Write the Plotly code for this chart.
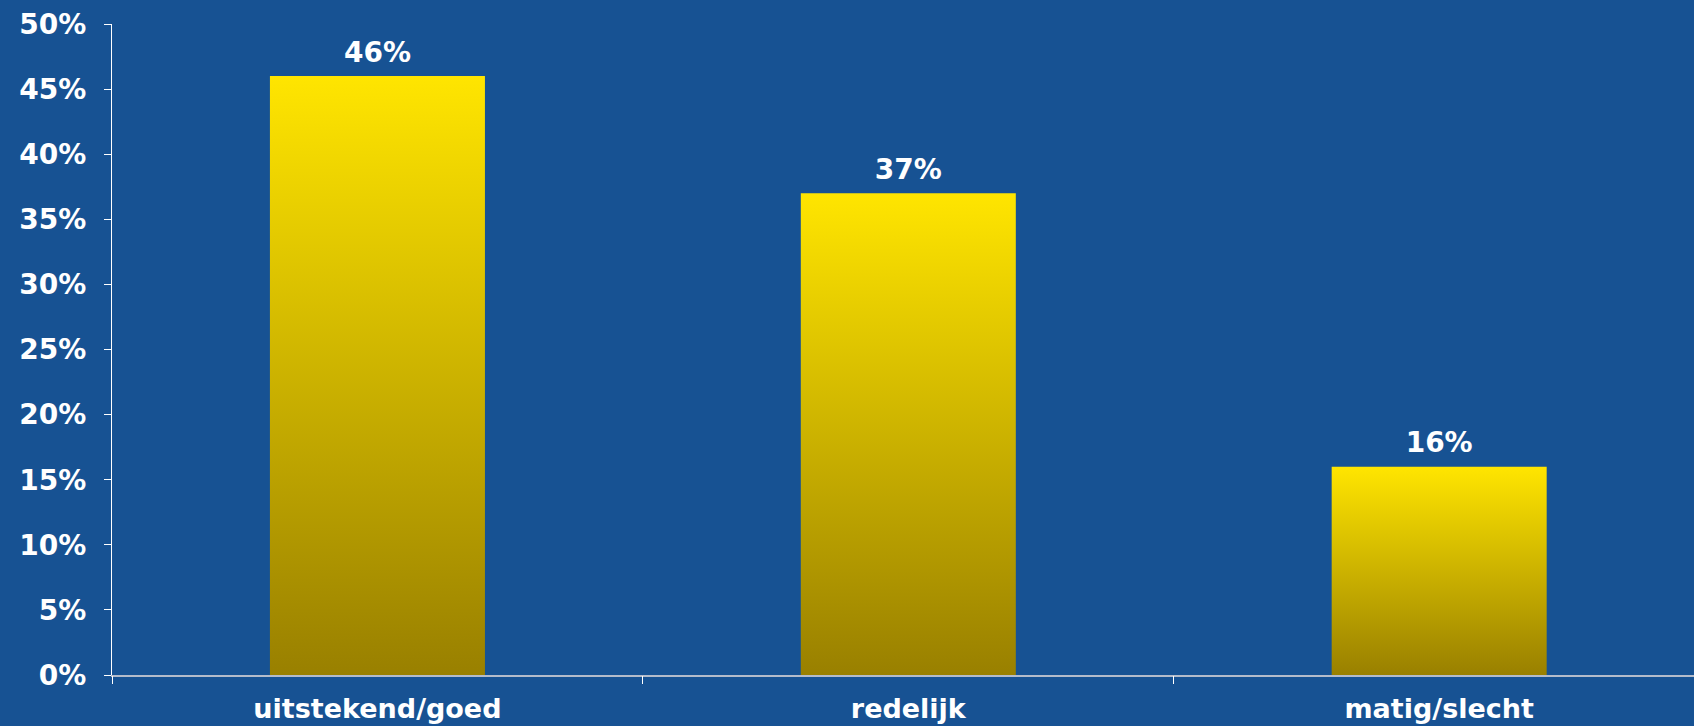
import plotly.graph_objects as go

categories = ["uitstekend/goed", "redelijk", "matig/slecht"]
values = [46, 37, 16]
labels = ["46%", "37%", "16%"]
y_ticks = [0, 5, 10, 15, 20, 25, 30, 35, 40, 45, 50]
y_ticktext = [f"{t}%" for t in y_ticks]

BG = "#175293"
BAR_HALF = 0.2025
FONT = "DejaVu Sans"

fig = go.Figure()
for i, v in enumerate(values):
    fig.add_trace(go.Scatter(
        x=[i - BAR_HALF, i - BAR_HALF, i + BAR_HALF, i + BAR_HALF, i - BAR_HALF],
        y=[0, v, v, 0, 0],
        mode="lines", line=dict(width=0, color="rgba(0,0,0,0)"),
        fill="toself",
        fillgradient=dict(type="vertical",
                          colorscale=[[0, "#998000"], [1, "#FFE500"]]),
        hoverinfo="skip", showlegend=False,
    ))

fig.add_trace(go.Scatter(
    x=list(range(len(categories))), y=values, mode="markers+text", text=labels,
    textposition="top center",
    marker=dict(size=10, opacity=0),
    textfont=dict(family=FONT, size=28, color="white", weight="bold"),
    showlegend=False, hoverinfo="skip",
))

fig.update_layout(
    width=1694, height=726,
    paper_bgcolor=BG, plot_bgcolor=BG,
    margin=dict(l=112, r=0, t=24, b=51),
    font=dict(family=FONT, color="white", size=27, weight="bold"),
    xaxis=dict(
        range=[-0.5, 2.48], tickvals=[0, 1, 2], ticktext=categories,
        ticks="", showgrid=False, zeroline=False,
        showline=True, linecolor="#B4BCCB", linewidth=2,
        tickfont=dict(family=FONT, size=27, color="white", weight="bold"),
        ticklabelstandoff=9,
        fixedrange=True,
    ),
    xaxis2=dict(
        range=[-0.5, 2.48], overlaying="x", side="bottom",
        tickvals=[-0.5, 0.5, 1.5], showticklabels=False,
        ticks="outside", ticklen=8, tickcolor="white", tickwidth=1,
        showgrid=False, zeroline=False, showline=False, anchor="y",
    ),
    yaxis=dict(
        range=[0, 50], tickvals=y_ticks, ticktext=y_ticktext,
        ticks="outside", ticklen=7, tickcolor="white", tickwidth=1,
        showline=True, linecolor="white", linewidth=1,
        showgrid=False, zeroline=False, ticklabelstandoff=12,
        tickfont=dict(family=FONT, size=28, color="white", weight="bold"),
    ),
)
fig.add_trace(go.Scatter(x=[0], y=[0], xaxis="x2", mode="markers",
                         marker=dict(opacity=0), showlegend=False, hoverinfo="skip"))

fig.write_html("out.html", config={"displayModeBar": False},
               post_script="document.body.style.margin='0';document.body.style.background='%s';" % BG)
